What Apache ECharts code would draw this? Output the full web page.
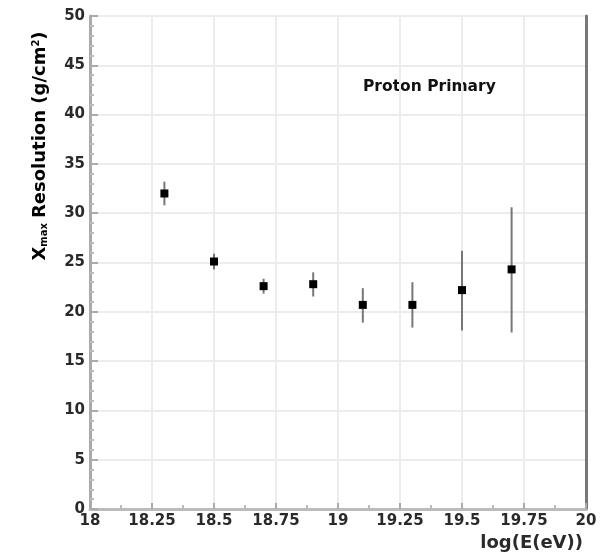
<!DOCTYPE html>
<html><head><meta charset="utf-8">
<script src="https://cdn.jsdelivr.net/npm/echarts@6/dist/echarts.min.js"></script>
<style>html,body{margin:0;padding:0;background:#fff}#c{width:611px;height:558px}</style>
</head><body><div id="c"></div>
<script>
const energies = [18.3, 18.5, 18.7, 18.9, 19.1, 19.3, 19.5, 19.7];
const resolution = [32.0, 25.1, 22.6, 22.8, 20.7, 20.7, 22.2, 24.3];
const errLow = [1.2, 0.8, 0.75, 1.25, 1.8, 2.3, 4.1, 6.4];
const errHigh = [1.2, 0.8, 0.75, 1.2, 1.7, 2.3, 4.0, 6.3];
const annotation = 'Proton Primary';
const xTitle = 'log(E(eV))';

const pts = energies.map((e, i) => [e, resolution[i]]);
const bars = energies.map((e, i) => [e, resolution[i] - errLow[i], resolution[i] + errHigh[i]]);

const chart = echarts.init(document.getElementById('c'));
const font = 'DejaVu Sans';
const lbl = {color: '#2a2a2a', fontFamily: font, fontSize: 15, fontWeight: 'bold'};
chart.setOption({
  animation: false,
  grid: {left: 90, right: 25, top: 16, bottom: 49},
  xAxis: [{
    type: 'value', min: 18, max: 20, interval: 0.25,
    axisLine: {lineStyle: {color: '#777', width: 2}},
    axisTick: {inside: true, length: 6, lineStyle: {color: '#aaa', width: 2}},
    minorTick: {show: true, splitNumber: 2, length: 4, lineStyle: {color: '#bbb', width: 2}},
    splitLine: {show: true, lineStyle: {color: '#ececec', width: 2}},
    axisLabel: Object.assign({margin: 5}, lbl),
    name: xTitle, nameLocation: 'end', nameGap: 0,
    nameTextStyle: {color: '#2a2a2a', fontFamily: font, fontSize: 18, fontWeight: 'bold', align: 'right', verticalAlign: 'top', padding: [25, 3, 0, 0]}
  }, {
    type: 'value', position: 'top', min: 18, max: 20, interval: 0.25,
    axisLine: {show: true, lineStyle: {color: '#bbb', width: 3}},
    axisTick: {show: false}, axisLabel: {show: false}, splitLine: {show: false}
  }],
  yAxis: [{
    type: 'value', min: 0, max: 50, interval: 5,
    axisLine: {lineStyle: {color: '#aaa', width: 3}},
    axisTick: {inside: true, length: 8, lineStyle: {color: '#aaa', width: 2}},
    minorTick: {show: true, splitNumber: 5, length: 4, lineStyle: {color: '#bbb', width: 2}},
    splitLine: {show: true, lineStyle: {color: '#ececec', width: 2}},
    axisLabel: Object.assign({margin: 5}, lbl)
  }, {
    type: 'value', position: 'right', min: 0, max: 50, interval: 5,
    axisLine: {show: true, lineStyle: {color: '#777', width: 3}},
    axisTick: {show: false}, axisLabel: {show: false}, splitLine: {show: false}
  }],
  graphic: [
    {type: 'text', x: 363, y: 79, style: {text: annotation, fontFamily: font, fontSize: 15.5, fontWeight: 'bold', fill: '#111'}},
    {type: 'text', x: 40, y: 146, rotation: Math.PI / 2,
      style: {
        text: '{b|X}{s|max}{b|Resolution (g/cm}{p|2}{b|)}',
        align: 'center', verticalAlign: 'middle',
        rich: {
          b: {fontFamily: font, fontSize: 18, fontWeight: 'bold', color: '#2a2a2a'},
          s: {fontFamily: font, fontSize: 10, fontWeight: 'bold', color: '#2a2a2a', verticalAlign: 'bottom', padding: [8, 5, 0, 0]},
          p: {fontFamily: font, fontSize: 10, fontWeight: 'bold', color: '#2a2a2a', verticalAlign: 'top', padding: [0, 0, 8, 0]}
        }
      }}
  ],
  series: [
    {
      type: 'custom', data: bars, z: 2,
      renderItem: function (params, api) {
        const lo = api.coord([api.value(0), api.value(1)]);
        const hi = api.coord([api.value(0), api.value(2)]);
        return {type: 'line', shape: {x1: lo[0], y1: lo[1], x2: hi[0], y2: hi[1]}, style: {stroke: '#777', lineWidth: 2}};
      }
    },
    {type: 'scatter', data: pts, symbol: 'rect', symbolSize: 8, itemStyle: {color: '#000', opacity: 1}, z: 3}
  ]
});
</script></body></html>
